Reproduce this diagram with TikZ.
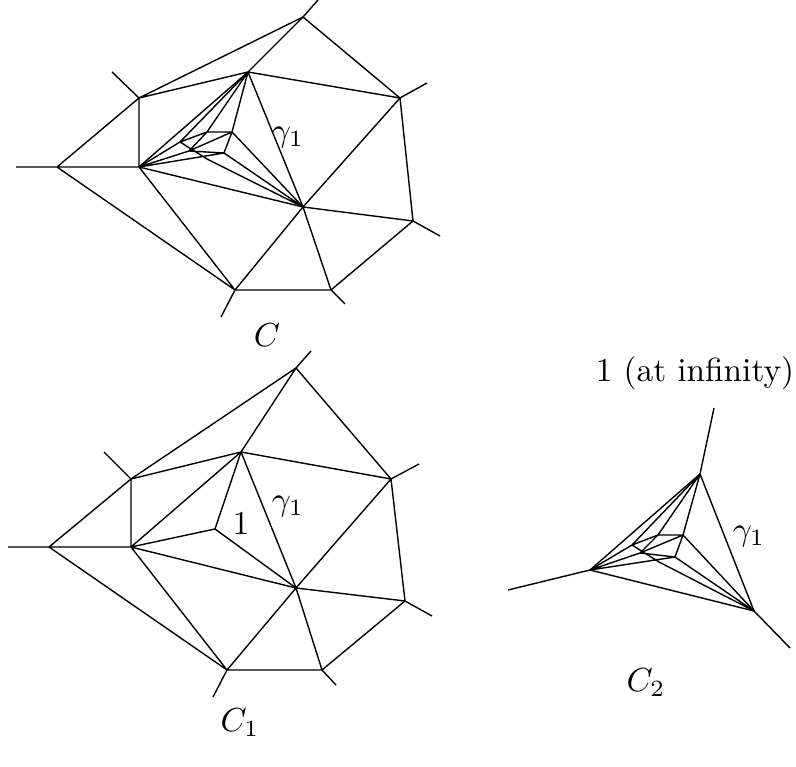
\documentclass[tikz,border=0pt]{standalone}
\tikzset{
  px/.style={x=0.3pt,y=-0.3pt},
  edge/.style={line width=0.42pt,line join=round},
  lab/.style={inner sep=0pt,outer sep=0pt}
}
\begin{document}
\begin{tikzpicture}[px]
\useasboundingbox (0,0) rectangle (796,767);
% graph C
\foreach \n/\x/\y in {l/57/167,ls/16/167,b/139/98,bs/112/72,c/139/167,t/303,17/0/0}{}
\coordinate (al) at (57,167); \coordinate (als) at (16,167);
\coordinate (ab) at (139,98); \coordinate (abs) at (112,72);
\coordinate (ac) at (139,167); \coordinate (at) at (303,17);
\coordinate (ats) at (318,0); \coordinate (aa) at (248,72);
\coordinate (ar) at (400,98); \coordinate (ars) at (427,83);
\coordinate (ap) at (413,221); \coordinate (aps) at (440,236);
\coordinate (aq) at (331,290); \coordinate (aqs) at (345,304);
\coordinate (as) at (235,290); \coordinate (ass) at (221,317);
\coordinate (ad) at (303,207);
\coordinate (ae) at (232,132); \coordinate (af) at (207,132);
\coordinate (ag) at (180,142); \coordinate (ah) at (189,151);
\coordinate (ai) at (224,153); \coordinate (aj) at (207,159);
\draw[edge] (als)--(al) (al)--(ab) (al)--(ac) (al)--(as) (abs)--(ab) (ab)--(ac) (ab)--(at) (ab)--(aa)
 (ats)--(at) (at)--(aa) (at)--(ar) (aa)--(ar) (ars)--(ar) (ar)--(ap) (ar)--(ad) (aps)--(ap) (ap)--(ad) (ap)--(aq)
 (aqs)--(aq) (aq)--(as) (aq)--(ad) (ass)--(as) (as)--(ad) (as)--(ac) (ac)--(ad) (aa)--(ad) (aa)--(ac);
\draw[edge] (aa)--(ag) (aa)--(af) (aa)--(ae) (ac)--(ag) (ac)--(ah) (ac)--(ai) (ag)--(af) (af)--(ae) (af)--(ah)
 (ah)--(ae) (ah)--(ai) (ae)--(ai) (ae)--(ad) (ai)--(ad) (ag)--(aj) (aj)--(ad);
\node[lab] (n1) at (288,138) {$\gamma_1$};
\node[lab] (n2) at (267,335) {$C$};
% graph C1
\coordinate (bl) at (49,547); \coordinate (bls) at (8,547);
\coordinate (bb) at (131,479); \coordinate (bbs) at (104,452);
\coordinate (bc) at (131,547); \coordinate (bt) at (296,368);
\coordinate (bts) at (311,351); \coordinate (ba) at (241,452);
\coordinate (br) at (391,479); \coordinate (brs) at (419,464);
\coordinate (bp) at (405,601); \coordinate (bps) at (432,616);
\coordinate (bq) at (322,670); \coordinate (bqs) at (336,685);
\coordinate (bs) at (227,670); \coordinate (bss) at (213,697);
\coordinate (bd) at (296,588); \coordinate (bi) at (215,529);
\draw[edge] (bls)--(bl) (bl)--(bb) (bl)--(bc) (bl)--(bs) (bbs)--(bb) (bb)--(bc) (bb)--(bt) (bb)--(ba)
 (bts)--(bt) (bt)--(ba) (bt)--(br) (ba)--(br) (brs)--(br) (br)--(bp) (br)--(bd) (bps)--(bp) (bp)--(bd) (bp)--(bq)
 (bqs)--(bq) (bq)--(bs) (bq)--(bd) (bss)--(bs) (bs)--(bd) (bs)--(bc) (bc)--(bd) (ba)--(bd) (ba)--(bc)
 (ba)--(bi) (bc)--(bi) (bi)--(bd);
\node[lab] (n3) at (241,524) {$1$};
\node[lab] (n4) at (288,507) {$\gamma_1$};
\node[lab] (n5) at (240,723) {$C_1$};
% graph C2
\coordinate (ca) at (700,474); \coordinate (cas) at (714,408);
\coordinate (cc) at (590,570); \coordinate (ccs) at (508,590);
\coordinate (cd) at (754,611); \coordinate (cds) at (790,648);
\coordinate (ce) at (683,535); \coordinate (cf) at (658,535);
\coordinate (cg) at (632,545); \coordinate (ch) at (640,553);
\coordinate (ci) at (675,557); \coordinate (cj) at (659,562);
\draw[edge] (cas)--(ca) (ccs)--(cc) (cds)--(cd) (ca)--(cc) (ca)--(cd) (cc)--(cd);
\draw[edge] (ca)--(cg) (ca)--(cf) (ca)--(ce) (cc)--(cg) (cc)--(ch) (cc)--(ci) (cg)--(cf) (cf)--(ce) (cf)--(ch)
 (ch)--(ce) (ch)--(ci) (ce)--(ci) (ce)--(cd) (ci)--(cd) (cg)--(cj) (cj)--(cd);
\node[lab] (n6) at (749,537) {$\gamma_1$};
\node[lab] (n7) at (646,683) {$C_2$};
\node[lab] (n8) at (695,373) {1 (at infinity)};
\end{tikzpicture}
\end{document}
